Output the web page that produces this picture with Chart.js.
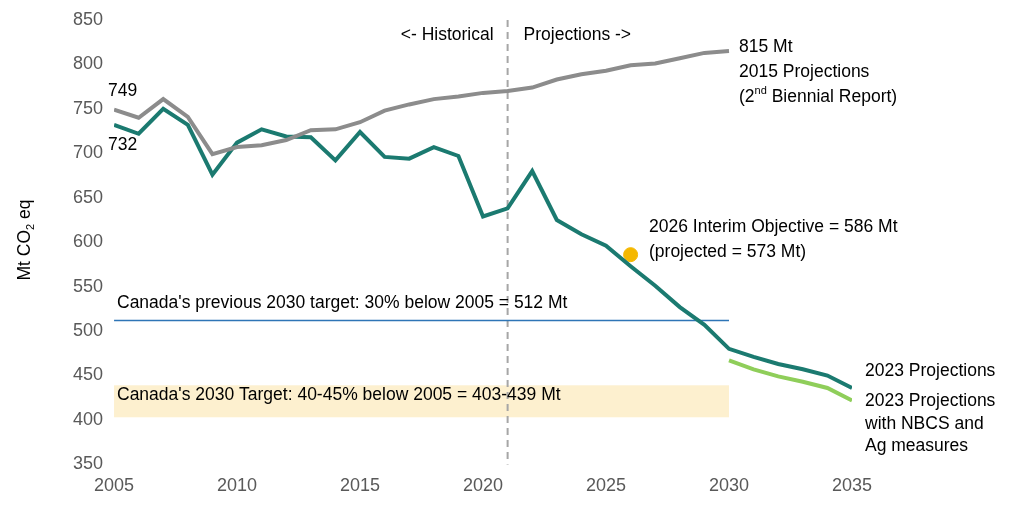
<!DOCTYPE html>
<html><head><meta charset="utf-8">
<script src="https://cdn.jsdelivr.net/npm/chart.js@4/dist/chart.umd.min.js"></script>
<style>html,body{margin:0;background:#fff}#wrap{width:1024px;height:508px}</style>
</head><body><div id="wrap"><canvas id="c"></canvas></div>
<script>
const yearsHist = [2005,2006,2007,2008,2009,2010,2011,2012,2013,2014,2015,2016,2017,2018,2019,2020,2021,2022,2023,2024,2025,2026,2027,2028,2029,2030];
const proj2015 = [749,740,761,741,699,707,709,715,726,727,735,748,755,761,764,768,770,774,783,789,793,799,801,807,813,815];
const years2023 = [2005,2006,2007,2008,2009,2010,2011,2012,2013,2014,2015,2016,2017,2018,2019,2020,2021,2022,2023,2024,2025,2026,2027,2028,2029,2030,2031,2032,2033,2034,2035];
const proj2023 = [732,722,750,732,676,712,727,719,718,692,724,696,694,707,697,629,638,680,625,609,596,573,551,527,507,480,471,463,457,450,436];
const yearsNbcs = [2030,2031,2032,2033,2034,2035];
const projNbcs = [467,457,449,443,436,422];
const prevTarget = 512, targetLow = 403, targetHigh = 439, interim = 586, interimYear = 2026;
const FONT = '17.5px "Liberation Sans", Arial, sans-serif';
const SMALL = '11px "Liberation Sans", Arial, sans-serif';

const xy = (xs, ys) => xs.map((x,i)=>({x, y: ys[i]}));

const annot = {
  id:'annot',
  beforeDatasetsDraw(ch){
    const {ctx, scales:{x,y}} = ch;
    ctx.save();
    ctx.fillStyle = '#fdf0cf';
    ctx.fillRect(x.getPixelForValue(2005), y.getPixelForValue(targetHigh), x.getPixelForValue(2030)-x.getPixelForValue(2005), y.getPixelForValue(targetLow)-y.getPixelForValue(targetHigh));
    ctx.strokeStyle = '#a6a6a6'; ctx.lineWidth = 2; ctx.setLineDash([7,5]);
    ctx.beginPath(); ctx.moveTo(x.getPixelForValue(2021), y.top); ctx.lineTo(x.getPixelForValue(2021), y.bottom); ctx.stroke();
    ctx.restore();
  },
  afterDatasetsDraw(ch){
    const {ctx, scales:{x,y}} = ch;
    ctx.save();
    ctx.font = FONT; ctx.fillStyle = '#000'; ctx.textBaseline = 'middle';
    const t = (s, xv, yv, al='left') => { ctx.textAlign = al; ctx.fillText(s, xv, yv); };
    const x21 = x.getPixelForValue(2021);
    t('<- Historical', x21-14, 35, 'right');
    t('Projections ->', x21+16, 35);
    t('749', 108, 91); t('732', 108, 145);
    const xr = x.getPixelForValue(2030)+10;
    t('815 Mt', xr, 47); t('2015 Projections', xr, 72);
    ctx.textAlign='left'; let px = xr; ctx.fillText('(2', px, 97); px += ctx.measureText('(2').width;
    ctx.font = SMALL; ctx.fillText('nd', px, 91); px += ctx.measureText('nd').width;
    ctx.font = FONT; ctx.fillText(' Biennial Report)', px, 97);
    t('2026 Interim Objective = 586 Mt', 649, 227); t('(projected = 573 Mt)', 649, 252);
    t("Canada's previous 2030 target: 30% below 2005 = 512 Mt", 117, 303);
    t("Canada's 2030 Target: 40-45% below 2005 = 403-439 Mt", 117, 395);
    t('2023 Projections', 865, 371);
    t('2023 Projections', 865, 401); t('with NBCS and', 865, 424); t('Ag measures', 865, 446);
    ctx.translate(25, 240); ctx.rotate(-Math.PI/2); ctx.textAlign='left';
    const a='Mt CO', b='2', c=' eq';
    ctx.font = FONT; const wa = ctx.measureText(a).width, wc = ctx.measureText(c).width;
    ctx.font = SMALL; const wb = ctx.measureText(b).width;
    let sx = -(wa+wb+wc)/2;
    ctx.font = FONT; ctx.fillText(a, sx, 0); sx += wa;
    ctx.font = SMALL; ctx.fillText(b, sx, 6); sx += wb;
    ctx.font = FONT; ctx.fillText(c, sx, 0);
    ctx.restore();
  }
};

new Chart(document.getElementById('c'), {
  type:'line',
  data:{ datasets:[
    {data: xy(yearsHist, proj2015), borderColor:'#8c8c8c', borderWidth:4, pointRadius:0, tension:0},
    {data: xy(years2023, proj2023), borderColor:'#1b7a70', borderWidth:4, pointRadius:0, tension:0},
    {data: xy(yearsNbcs, projNbcs), borderColor:'#8fce5a', borderWidth:4, pointRadius:0, tension:0},
    {data: [{x:2005,y:prevTarget},{x:2030,y:prevTarget}], borderColor:'#2e75b6', borderWidth:1.5, pointRadius:0},
    {data: [{x:interimYear,y:interim}], borderColor:'#f5b800', backgroundColor:'#f5b800', pointRadius:7, showLine:false}
  ]},
  options:{
    responsive:true, maintainAspectRatio:false, animation:false,
    layout:{padding:{left:70, right:172, top:20, bottom:8}},
    plugins:{legend:{display:false}, tooltip:{enabled:false}},
    scales:{
      x:{type:'linear', min:2005, max:2035, grid:{display:false}, border:{display:false},
         ticks:{stepSize:5, color:'#595959', font:{size:18, family:'"Liberation Sans", Arial'}, callback:v=>String(v)}},
      y:{min:350, max:850, grid:{display:false}, border:{display:false},
         ticks:{stepSize:50, color:'#595959', font:{size:18, family:'"Liberation Sans", Arial'}}}
    }
  },
  plugins:[annot]
});
</script></body></html>
